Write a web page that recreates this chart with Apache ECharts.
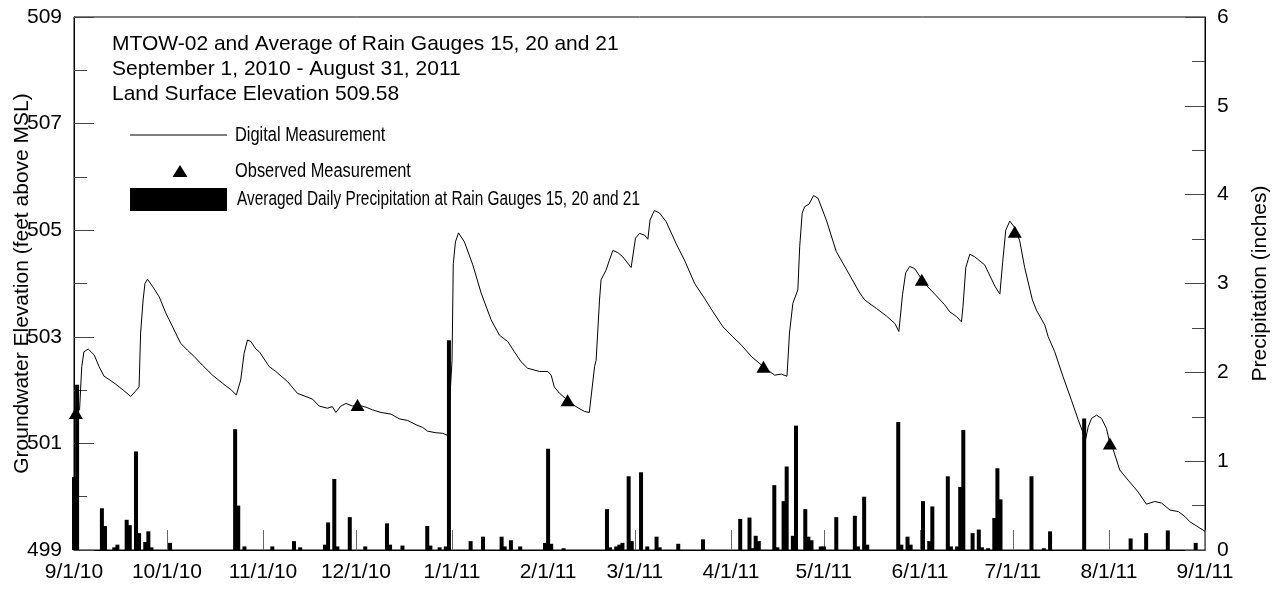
<!DOCTYPE html>
<html>
<head>
<meta charset="utf-8">
<script src="https://cdn.jsdelivr.net/npm/echarts@6/dist/echarts.min.js"></script>
<style>
html,body{margin:0;padding:0;background:#fff;}
#chart{width:1279px;height:589px;}
</style>
</head>
<body>
<div id="chart"></div>
<script>
// X axis: days since 9/1/2010
const tickDays = [0,30,61,91,122,153,181,212,242,273,303,334,365];
const tickLabels = ['9/1/10','10/1/10','11/1/10','12/1/10','1/1/11','2/1/11','3/1/11','4/1/11','5/1/11','6/1/11','7/1/11','8/1/11','9/1/11'];

// Digital measurement (groundwater elevation, ft MSL)
const lineDay = [0,1.8,2.5,3.2,4.6,6.5,8.1,9.7,11.3,13.5,16.1,18.3,19.7,21.0,21.5,22.3,22.9,23.7,25.3,27.5,29.6,30.7,32.8,34.4,36.6,38.8,41.4,44.7,47.9,50.6,52.4,53.8,54.9,56.0,57.1,58.7,59.8,63.0,65.1,68.9,72.1,77.0,79.1,81.8,83.4,84.5,86.1,87.8,89.9,91.5,94.2,96.3,99.1,102.3,105.0,107.7,110.4,112.5,114.1,116.8,119.0,120.6,122.0,122.4,123.1,124.1,126.0,128.7,131.4,134.6,137.3,140.0,142.1,144.3,146.4,150.2,152.9,154.0,155.0,156.7,159.3,162.0,164.7,166.3,168.0,168.5,169.6,170.1,171.7,172.8,173.9,175.5,177.1,179.8,181.2,182.5,184.1,185.2,185.9,187.3,189.0,191.1,194.3,197.0,200.3,203.5,206.2,209.4,212.6,215.3,218.6,222.5,224.5,226.1,228.3,230.1,230.9,232.0,233.6,234.2,235.0,235.8,237.2,238.7,240.1,242.8,246.0,250.3,253.6,255.2,259.0,262.2,264.9,266.2,267.4,268.4,269.7,271.3,274.5,277.8,281.0,282.6,284.8,286.4,286.9,287.8,289.1,290.7,293.9,297.2,298.8,299.7,300.7,302.0,303.6,305.2,306.8,309.3,310.6,313.3,314.4,316.5,319.2,321.9,324.1,325.5,326.3,327.3,328.4,330.0,331.6,333.2,334.3,335.4,337.5,340.2,343.4,346.1,348.8,351.0,353.7,356.4,358.5,360.1,365];
const lineElev = [501.55,501.63,502.44,502.72,502.77,502.66,502.44,502.26,502.2,502.11,501.99,501.88,501.97,502.06,503.07,503.69,504.0,504.08,503.95,503.75,503.45,503.32,503.07,502.88,502.75,502.63,502.47,502.28,502.13,502.01,501.91,502.19,502.69,502.94,502.91,502.77,502.72,502.44,502.35,502.16,501.94,501.83,501.7,501.66,501.69,501.58,501.7,501.75,501.7,501.72,501.68,501.63,501.58,501.55,501.46,501.43,501.35,501.30,501.23,501.2,501.19,501.15,502.56,504.37,504.78,504.95,504.78,504.35,503.82,503.32,503.03,502.91,502.72,502.53,502.41,502.35,502.35,502.28,502.06,501.94,501.81,501.69,501.6,501.58,502.44,502.56,503.69,504.07,504.25,504.44,504.62,504.58,504.5,504.3,504.85,504.94,504.91,504.83,505.19,505.37,505.32,505.16,504.75,504.44,504.0,503.72,503.47,503.19,503.0,502.85,502.63,502.44,502.35,502.28,502.3,502.26,503.07,503.63,503.88,504.69,505.32,505.44,505.49,505.65,505.6,505.19,504.6,504.16,503.82,503.69,503.53,503.39,503.25,503.1,503.8,504.2,504.32,504.28,504.0,503.8,503.6,503.47,503.38,503.28,503.57,504.3,504.55,504.5,504.35,503.95,503.8,504.4,505.0,505.17,505.05,504.8,504.3,503.69,503.5,503.22,503.0,502.72,502.25,501.81,501.44,501.22,501.03,501.31,501.47,501.53,501.47,501.28,501.0,500.88,500.5,500.31,500.09,499.86,499.91,499.88,499.75,499.72,499.63,499.53,499.35];

// Observed measurements
const obsDay = [0.6,91.5,159.3,222.5,273.6,303.6,334.3];
const obsElev = [501.57,501.72,501.81,502.44,504.07,504.97,501.0];

// Averaged daily precipitation (inches)
const precipDay = [0,1,9,10,13,14,17,18,20,21,23,24,25,31,52,53,55,64,71,73,81,82,84,85,89,94,101,102,106,114,115,118,120,121,128,132,138,139,141,144,152,153,154,158,172,173,175,176,177,179,180,183,185,188,189,195,203,215,218,219,220,221,226,227,229,230,232,233,236,237,238,241,242,246,252,253,255,256,266,267,269,270,274,276,277,282,283,285,286,287,290,292,293,295,297,298,299,309,313,315,326,341,346,353,362];
const precipIn = [0.82,1.86,0.47,0.27,0.03,0.06,0.34,0.28,1.11,0.19,0.09,0.21,0.03,0.08,1.36,0.5,0.04,0.04,0.1,0.03,0.06,0.31,0.8,0.04,0.37,0.04,0.3,0.06,0.05,0.27,0.05,0.03,0.04,2.36,0.1,0.15,0.15,0.04,0.11,0.04,0.08,1.14,0.07,0.02,0.46,0.03,0.04,0.06,0.08,0.83,0.1,0.875,0.04,0.15,0.03,0.07,0.12,0.35,0.365,0.02,0.16,0.1,0.73,0.03,0.55,0.94,0.16,1.40,0.46,0.15,0.11,0.04,0.04,0.37,0.385,0.04,0.6,0.06,1.44,0.06,0.15,0.06,0.55,0.1,0.49,0.83,0.04,0.04,0.71,1.35,0.19,0.23,0.03,0.02,0.36,0.92,0.57,0.83,0.02,0.21,1.48,0.13,0.19,0.22,0.08];

const titleLines = ['MTOW-02 and Average of Rain Gauges 15, 20 and 21','September 1, 2010 - August 31, 2011','Land Surface Elevation 509.58'];
const nmLine = 'Digital Measurement';
const nmObs = 'Observed Measurement';
const nmBar = 'Averaged Daily Precipitation at Rain Gauges 15, 20 and 21';

const FONT = "'Liberation Sans', Arial, Helvetica, sans-serif";

const chart = echarts.init(document.getElementById('chart'), null, {renderer:'canvas'});
const axisCommon = {
  axisLine:{show:true, lineStyle:{color:'#000', width:1}},
  axisTick:{show:true, inside:true, length:20, lineStyle:{color:'#444', width:1}},
  minorTick:{show:true, splitNumber:2, length:13, lineStyle:{color:'#444', width:1}},
  splitLine:{show:false},
  minorSplitLine:{show:false},
  axisLabel:{color:'#000', fontSize:21, fontFamily:FONT, margin:12},
  nameLocation:'middle',
  nameMoveOverlap:false,
  nameTextStyle:{color:'#000', fontSize:21, fontFamily:FONT}
};
const legendFont = "20px 'Liberation Sans', Arial, sans-serif";

chart.setOption({
  animation:false,
  backgroundColor:'#fff',
  title:{
    text:titleLines.join('\n'), left:112, top:32, padding:0,
    textStyle:{color:'#000', fontSize:21, fontWeight:'normal', fontFamily:FONT, lineHeight:25}
  },
  graphic:[
    {type:'line', shape:{x1:130, y1:135, x2:227, y2:135}, style:{stroke:'#000', lineWidth:1}},
    {type:'text', x:235, y:135, scaleX:0.82, style:{text:nmLine, font:legendFont, fill:'#000', verticalAlign:'middle'}},
    {type:'polygon', shape:{points:[[180,165],[187.5,177],[172.5,177]]}, style:{fill:'#000'}},
    {type:'text', x:235, y:171, scaleX:0.82, style:{text:nmObs, font:legendFont, fill:'#000', verticalAlign:'middle'}},
    {type:'rect', shape:{x:130, y:188, width:97, height:23}, style:{fill:'#000'}},
    {type:'text', x:237, y:199, scaleX:0.77, style:{text:nmBar, font:legendFont, fill:'#000', verticalAlign:'middle'}}
  ],
  grid:{left:74, right:74, top:17, bottom:39, show:true, borderColor:'#000', borderWidth:1,
        backgroundColor:'transparent', containLabel:false, outerBoundsMode:'none'},
  xAxis:{
    type:'value', min:0, max:365,
    axisLine:{show:true, lineStyle:{color:'#000', width:1}},
    axisTick:{show:true, inside:true, length:20, customValues:tickDays, lineStyle:{color:'#666', width:1}},
    axisLabel:{customValues:tickDays, showMinLabel:true, showMaxLabel:true, color:'#000', fontSize:21, fontFamily:FONT, margin:12,
      formatter:function(v){ const i = tickDays.indexOf(v); return i >= 0 ? tickLabels[i] : ''; }},
    splitLine:{show:false}
  },
  yAxis:[
    Object.assign({}, axisCommon, {type:'value', position:'left', min:499, max:509, interval:2,
      name:'Groundwater Elevation (feet above MSL)', nameGap:41}),
    Object.assign({}, axisCommon, {type:'value', position:'right', min:0, max:6, interval:1,
      name:'Precipitation (inches)', nameGap:45})
  ],
  series:[
    {name:nmBar, type:'bar', xAxisIndex:0, yAxisIndex:1, barWidth:4, clip:false, z:1,
     itemStyle:{color:'#000'}, data:precipDay.map((d,i)=>[d, precipIn[i]])},
    {name:nmLine, type:'line', xAxisIndex:0, yAxisIndex:0, symbol:'none', showSymbol:false, z:3,
     lineStyle:{color:'#000', width:1}, itemStyle:{color:'#000'}, data:lineDay.map((d,i)=>[d, lineElev[i]])},
    {name:nmObs, type:'scatter', xAxisIndex:0, yAxisIndex:0, symbol:'triangle', symbolSize:[14,12], z:4,
     itemStyle:{color:'#000', opacity:1}, data:obsDay.map((d,i)=>[d, obsElev[i]])}
  ]
});
</script>
</body>
</html>
